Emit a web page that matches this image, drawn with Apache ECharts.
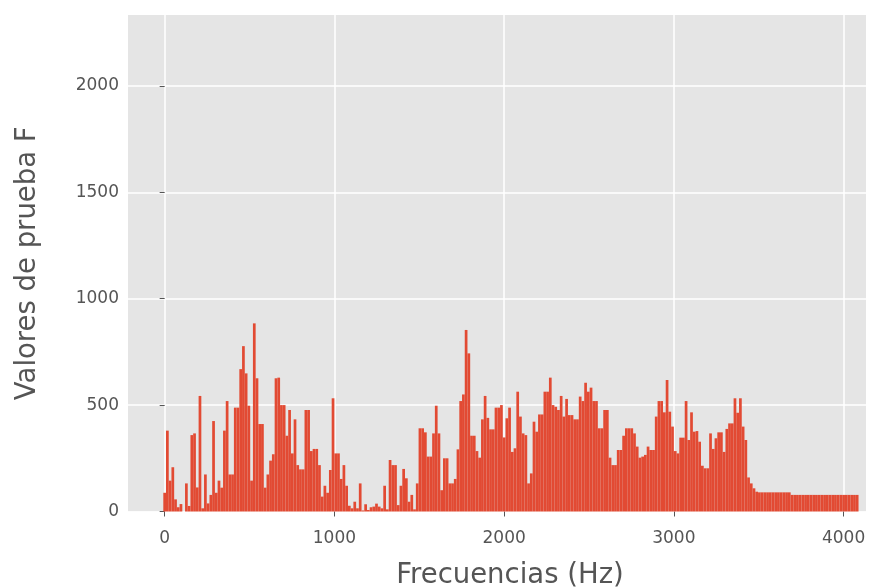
<!DOCTYPE html>
<html><head><meta charset="utf-8">
<script src="https://cdn.jsdelivr.net/npm/echarts@6/dist/echarts.min.js"></script>
<style>html,body{margin:0;padding:0;background:#fff}#c{width:881px;height:587px}</style>
</head><body><div id="c"></div>
<script>
// Frequency bin spacing (Hz) and F-test values
const binWidthHz = 16;
const fValues = [
88,380,145,208,57,20,35,0,132,26,
359,367,113,543,15,174,38,78,425,88,
145,112,380,519,174,174,488,488,669,777,
649,497,145,884,626,411,411,112,174,239,
269,626,629,500,500,356,477,273,433,218,
198,198,477,477,284,294,294,218,70,121,
88,195,532,273,273,153,218,121,27,15,
46,15,132,5,34,7,20,23,37,23,
15,121,10,242,218,218,30,121,200,156,
46,78,10,132,391,391,372,258,258,367,
497,367,100,250,250,132,132,153,292,519,
550,853,743,356,356,284,253,433,543,440,
386,386,488,488,500,348,438,488,280,297,
563,446,367,359,132,179,422,375,456,456,
563,563,629,500,492,477,543,446,529,453,
453,433,433,540,519,605,563,582,519,519,
391,391,477,477,253,218,218,289,289,356,
391,391,391,367,305,253,258,266,305,289,
289,446,519,519,466,618,469,399,284,273,
347,347,519,336,466,375,378,328,215,203,
203,367,294,344,372,372,280,388,414,414,
532,464,532,399,336,160,132,109,93,90,
90,90,90,90,90,90,90,90,90,90,
90,78,78,78,78,78,78,78,78,78,
78,78,78,78,78,78,78,78,78,78,
78,78,78,78,78,78
];
const xTicks = [0, 1000, 2000, 3000, 4000];
const yTicks = [0, 500, 1000, 1500, 2000];
const xTitle = 'Frecuencias (Hz)';
const yTitle = 'Valores de prueba F';

const freqs = fValues.map((_, i) => i * binWidthHz);
const seriesData = fValues.map((v, i) => [freqs[i], v]);

const FONT = 'DejaVu Sans';
const plain = v => String(Math.round(v));
const chart = echarts.init(document.getElementById('c'), null, {renderer: 'canvas'});
chart.setOption({
  animation: false,
  grid: {left: 128, right: 15, top: 15, bottom: 75.5, show: true, backgroundColor: '#E5E5E5', borderWidth: 0,
         containLabel: false, outerBoundsMode: 'none'},
  xAxis: {
    type: 'value', min: -216, max: 4132,
    axisLine: {show: false},
    axisTick: {show: true, length: 5, customValues: xTicks, lineStyle: {color: '#555555', width: 1}},
    axisLabel: {customValues: xTicks, formatter: plain, color: '#555555', fontSize: 17, fontFamily: FONT, margin: 19},
    splitLine: {show: true, lineStyle: {color: '#FFFFFF', width: 1.5}},
    name: xTitle, nameLocation: 'middle', nameGap: 50,
    nameTextStyle: {color: '#555555', fontSize: 27.5, fontFamily: FONT, padding: [0, 0, 0, 26]}
  },
  yAxis: {
    type: 'value', min: 0, max: 2333,
    axisLine: {show: false},
    axisTick: {show: true, length: 5, customValues: yTicks, lineStyle: {color: '#555555', width: 1}},
    axisLabel: {customValues: yTicks, formatter: plain, color: '#555555', fontSize: 17, fontFamily: FONT, margin: 9},
    splitLine: {show: true, lineStyle: {color: '#FFFFFF', width: 1.5}},
    name: yTitle, nameLocation: 'middle', nameGap: 86, nameRotate: 90,
    nameTextStyle: {color: '#555555', fontSize: 27.5, fontFamily: FONT}
  },
  series: [{
    type: 'bar', data: seriesData,
    barCategoryGap: '0%', barGap: '0%',
    itemStyle: {color: '#E24A33'}
  }]
});
</script></body></html>
